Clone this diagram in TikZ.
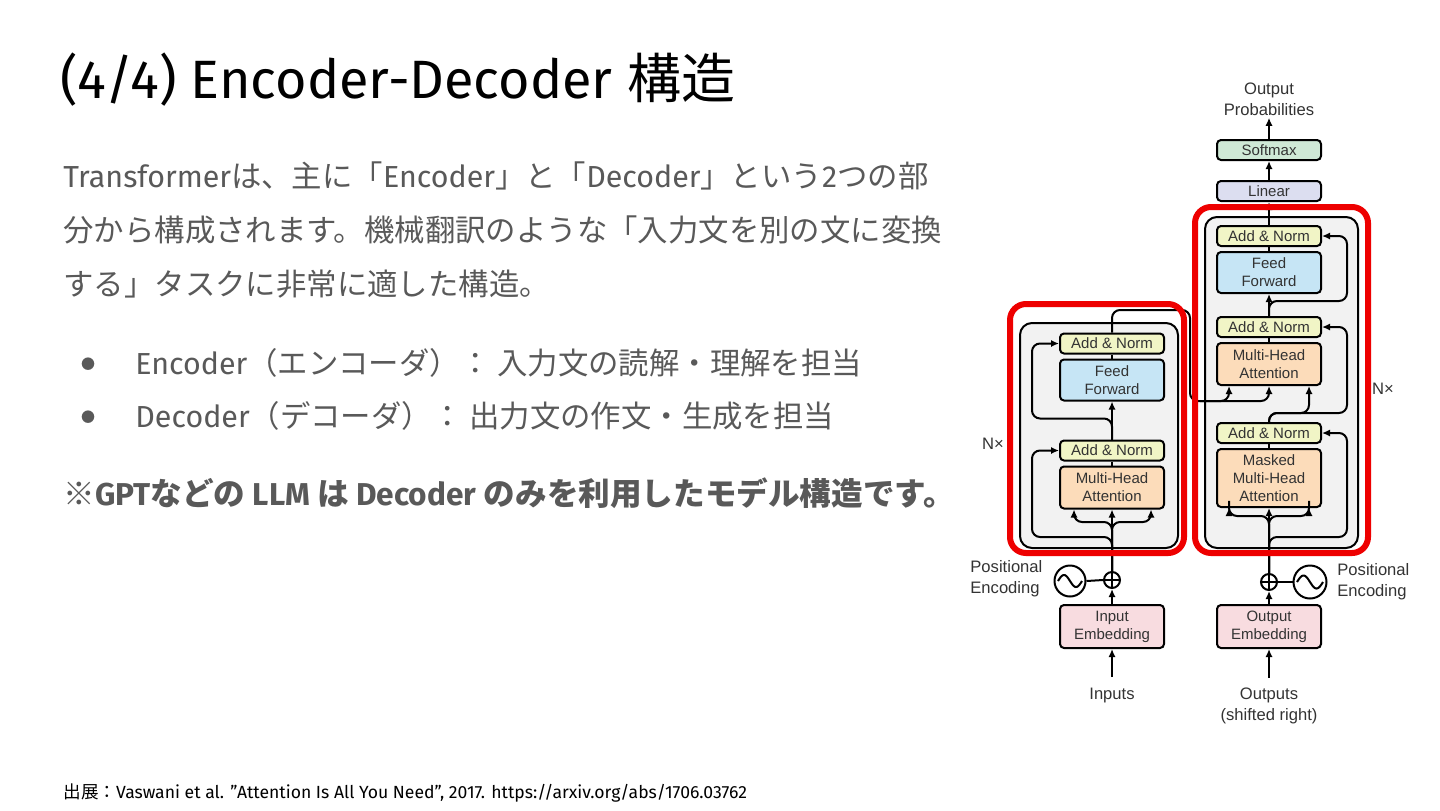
\documentclass[tikz,border=0pt]{standalone}
\usepackage{fontspec}
\usetikzlibrary{arrows.meta,calc}
\setmainfont{Fira Sans}
\newfontfamily\cjkf{Noto Sans CJK JP}
\newfontfamily\dg{Liberation Sans}
\newcommand\cj[1]{{\cjkf #1}}
\definecolor{bodyc}{HTML}{595959}
\definecolor{dtxt}{HTML}{333333}
\definecolor{anY}{HTML}{F1F5C6}
\definecolor{ffB}{HTML}{C6E5F5}
\definecolor{atO}{HTML}{FCDCBA}
\definecolor{emP}{HTML}{F8DCE0}
\definecolor{smG}{HTML}{CFE9D6}
\definecolor{lnL}{HTML}{DCDEF0}
\definecolor{grayF}{HTML}{F2F2F2}
\definecolor{redB}{HTML}{EE0000}
\tikzset{
  blk/.style={draw=black, line width=1pt, rounded corners=2pt, minimum width=52pt,
    align=center, font=\dg\fontsize{7.5}{9}\selectfont, text=dtxt, inner sep=0pt},
  an/.style={blk, fill=anY, minimum height=10pt},
  ffn/.style={blk, fill=ffB, minimum height=20.5pt},
  att/.style={blk, fill=atO, minimum height=21pt},
  emb/.style={blk, fill=emP, minimum height=21.5pt},
  lbl/.style={font=\dg\fontsize{8.3}{10.5}\selectfont, text=dtxt, inner sep=1pt, align=center},
  arr/.style={-{Latex[length=4pt,width=3.6pt]}, line width=1pt},
  ln/.style={line width=1pt},
  rc/.style={rounded corners=4pt},
  container/.style={draw=black, fill=grayF, line width=1pt, rounded corners=6pt},
  redframe/.style={draw=redB, line width=3pt, rounded corners=8pt},
  body/.style={anchor=base west, inner sep=0pt, text=bodyc, font=\fontsize{15.2}{17}\selectfont},
  bul/.style={anchor=center, inner sep=0pt, text=bodyc, font=\cjkf\fontsize{7}{7}\selectfont},
}
\begin{document}
\begin{tikzpicture}[x=0.5pt,y=-0.5pt]
\useasboundingbox (0,0) rectangle (1440,810);
\fill[white] (0,0) rectangle (1440,810);

% ---------- left text ----------
\node[anchor=base west, inner sep=0pt, font=\fontsize{27}{30}\selectfont] (title) at (60,98) {(4/4) Encoder-Decoder \cj{構造}};
\node[body] (l1) at (63,187) {Transformer\cj{は、主に「}Encoder\cj{」と「}Decoder\cj{」という}2\cj{つの部}};
\node[body] (l2) at (63,241) {\cj{分から構成されます。機械翻訳のような「入力文を別の文に変換}};
\node[body] (l3) at (63,295) {\cj{する」タスクに非常に適した構造。}};
\node[bul] (b1) at (88,364) {●};
\node[body] (b1t) at (135,374) {Encoder\cj{（エンコーダ）： 入力文の読解・理解を担当}};
\node[bul] (b2) at (88,417) {●};
\node[body] (b2t) at (135,427) {Decoder\cj{（デコーダ）： 出力文の作文・生成を担当}};
\node[body, font=\fontsize{15.8}{17}\selectfont\bfseries] (note) at (63,505) {\cj{※}GPT\cj{などの} LLM \cj{は} Decoder \cj{のみを利用したモデル構造です。}};
\node[anchor=base west, inner sep=0pt, text=black, font=\fontsize{8.8}{10}\selectfont] (src) at (63,798) {\cj{出展：}Vaswani et al. ”Attention Is All You Need”, 2017. https://arxiv.org/abs/1706.03762};

% ---------- containers ----------
\draw[container] (1020,323) rectangle (1178,548);
\draw[container] (1205,217) rectangle (1358,548);

% ---------- encoder blocks ----------
\node[an]  (eanT) at (1112,343.5) {Add \& Norm};
\node[ffn] (eff)  at (1112,380) {Feed\\Forward};
\node[an]  (eanB) at (1112,450.5) {Add \& Norm};
\node[att] (emha) at (1112,487.5) {Multi-Head\\Attention};
\node[emb] (iemb) at (1112,626.5) {Input\\Embedding};

% ---------- decoder blocks ----------
\node[blk, fill=smG, minimum height=10pt] (soft) at (1269,150) {Softmax};
\node[blk, fill=lnL, minimum height=10pt] (lin) at (1269,191) {Linear};
\node[an]  (danT) at (1269,236) {Add \& Norm};
\node[ffn] (dff)  at (1269,272.5) {Feed\\Forward};
\node[an]  (danM) at (1269,327) {Add \& Norm};
\node[att] (dmha) at (1269,364) {Multi-Head\\Attention};
\node[an]  (danB) at (1269,433) {Add \& Norm};
\node[att, minimum height=29pt] (dmm) at (1269,478) {Masked\\Multi-Head\\Attention};
\node[emb] (oemb) at (1269,626.5) {Output\\Embedding};

% ---------- labels ----------
\node[lbl] (outp) at (1269,99) {Output\\Probabilities};
\node[lbl] (inp) at (1112,695) {Inputs};
\node[lbl] (outs) at (1269,706) {Outputs\\(shifted right)};
\node[lbl, align=left, anchor=west] (pe1) at (968,579) {Positional\\Encoding};
\node[lbl, align=left, anchor=west] (pe2) at (1335,582) {Positional\\Encoding};
\node[lbl] (nx1) at (993,444) {N×};
\node[lbl] (nx2) at (1383,389) {N×};

% ---------- positional encoding ----------
\node[circle, draw, line width=1pt, minimum size=15.5pt, inner sep=0pt] (esin) at (1070,581) {};
\draw[ln, domain=-12:12, samples=40, smooth] plot ({1070+\x},{581+6*sin(\x*15)});
\node[circle, draw, line width=1pt, minimum size=8pt, inner sep=0pt] (eplus) at (1112,580) {};
\draw[ln] (eplus.north) -- (eplus.south) (eplus.west) -- (eplus.east);
\draw[ln] (esin.east) -- (eplus.west);

\node[circle, draw, line width=1pt, minimum size=16.5pt, inner sep=0pt] (dsin) at (1310,582) {};
\draw[ln, domain=-13:13, samples=40, smooth] plot ({1310+\x},{582+6.5*sin(\x*180/13)});
\node[circle, draw, line width=1pt, minimum size=8pt, inner sep=0pt] (dplus) at (1269,582) {};
\draw[ln] (dplus.north) -- (dplus.south) (dplus.west) -- (dplus.east);
\draw[ln] (dplus.east) -- (dsin.west);

% ---------- encoder connectors ----------
\draw[arr, shorten <=4pt] (inp.north) -- (iemb.south);
\draw[arr] (iemb.north) -- (eplus.south);
\draw[arr] (eplus.north) -- (emha.south);
\draw[arr, rc] (eplus.north) -- ++(0,-49) -| ($(emha.south)+(-38,0)$);
\draw[arr, rc] (eplus.north) -- ++(0,-49) -| ($(emha.south)+(39,0)$);
\draw[arr, rc] (eplus.north) -- ++(0,-34) -| ($(eanB.west)+(-27,0)$) -- (eanB.west);
\draw[ln] (emha.north) -- (eanB.south);
\draw[arr] (eanB.north) -- (eff.south);
\draw[arr, rc] (eanB.north) -- ++(0,-21) -| ($(eanT.west)+(-27,0)$) -- (eanT.west);
\draw[ln] (eff.north) -- (eanT.south);
\draw[arr, rc] (eanT.north) -- (1112,310) -- (1190,310) -- (1190,401) -| (dmha.south);
\draw[arr, rc] (1200,401) -| ($(dmha.south)+(-40,0)$);

% ---------- decoder connectors ----------
\draw[arr, shorten <=4pt] (outs.north) -- (oemb.south);
\draw[arr] (oemb.north) -- (dplus.south);
\draw[arr] (dplus.north) -- (dmm.south);
\draw[arr, rc] (dplus.north) -- ++(0,-57) -| ($(dmm.south)+(-40,0)$);
\draw[arr, rc] (dplus.north) -- ++(0,-57) -| ($(dmm.south)+(40,0)$);
\draw[arr, rc] (dplus.north) -- ++(0,-36) -| ($(danB.east)+(25,0)$) -- (danB.east);
\draw[ln] (dmm.north) -- (danB.south);
\draw[arr, rc] (danB.north) -- ++(0,-9) -| ($(dmha.south)+(40,0)$);
\draw[arr, rc] (danB.north) -- ++(0,-9) -| ($(danM.east)+(25,0)$) -- (danM.east);
\draw[ln] (dmha.north) -- (danM.south);
\draw[arr] (danM.north) -- (dff.south);
\draw[arr, rc] (danM.north) -- ++(0,-15) -| ($(danT.east)+(25,0)$) -- (danT.east);
\draw[ln] (dff.north) -- (danT.south);
\draw[arr] (danT.north) -- (lin.south);
\draw[arr] (lin.north) -- (soft.south);
\draw[arr] (soft.north) -- (outp.south);

% ---------- red frames ----------
\draw[redframe] (1010,304) rectangle (1184,553);
\draw[redframe] (1195,207) rectangle (1368,553);
\end{tikzpicture}
\end{document}
